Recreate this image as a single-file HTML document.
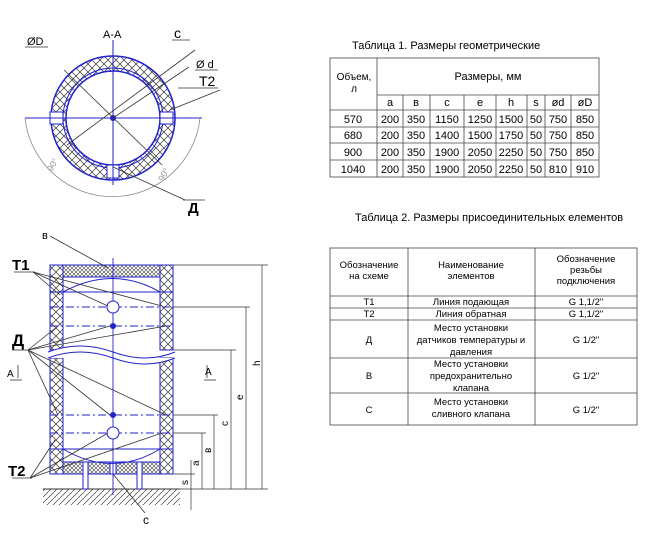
<!DOCTYPE html>
<html><head><meta charset="utf-8"><style>
body{margin:0;background:#fff;width:656px;height:536px;overflow:hidden}
svg{display:block}
text{font-family:"Liberation Sans",sans-serif}
</style></head><body>
<svg width="656" height="536" viewBox="0 0 656 536" xmlns="http://www.w3.org/2000/svg">
<defs>
<pattern id="x" width="8" height="8" patternUnits="userSpaceOnUse">
<path d="M0 0L8 8M8 0L0 8" stroke="#333" stroke-width="0.7"/></pattern>
<pattern id="xs" width="4" height="4" patternUnits="userSpaceOnUse">
<rect width="4" height="4" fill="#fff"/><path d="M0 0L4 4M4 0L0 4" stroke="#444" stroke-width="0.6"/></pattern>
<pattern id="hh" width="6" height="6" patternUnits="userSpaceOnUse">
<path d="M0 6L6 0" stroke="#444" stroke-width="0.7"/></pattern>
</defs>

<!-- circle section -->
<g>
<path d="M113 56a62 62 0 1 0 0.01 0ZM113 71a47 47 0 1 1 -0.01 0Z" fill="url(#x)" fill-rule="evenodd" stroke="#22c" stroke-width="1.5"/>
<circle cx="113" cy="118" r="50" fill="none" stroke="#22c" stroke-width="1"/>
<rect x="50" y="112" width="13" height="12" fill="#fff" stroke="#22c"/>
<rect x="160" y="112" width="13" height="12" fill="#fff" stroke="#22c"/>
<rect x="107" y="165" width="12" height="13" fill="#fff" stroke="#22c"/>
<line x1="25" y1="118" x2="202" y2="118" stroke="#22c"/>
<line x1="113" y1="40" x2="113" y2="185" stroke="#22c"/>
<circle cx="113" cy="118" r="3" fill="#22c"/>
<path d="M25 118A88 88 0 0 0 200 118" fill="none" stroke="#888" stroke-width="0.8"/>
<line x1="64" y1="70" x2="162" y2="165" stroke="#333" stroke-width="0.8"/>
<line x1="67" y1="145" x2="195" y2="50" stroke="#333" stroke-width="0.8"/>
<line x1="113" y1="118" x2="189" y2="67" stroke="#333" stroke-width="0.8"/>
<line x1="170" y1="110" x2="220" y2="90" stroke="#333" stroke-width="0.8"/>
<line x1="113" y1="167" x2="185" y2="200" stroke="#333" stroke-width="0.8"/>
<line x1="25" y1="47" x2="48" y2="47" stroke="#333" stroke-width="0.8"/>
<line x1="172" y1="40" x2="190" y2="40" stroke="#333" stroke-width="0.8"/>
<line x1="195" y1="70" x2="218" y2="70" stroke="#333" stroke-width="0.8"/>
<line x1="178" y1="88" x2="218" y2="88" stroke="#333" stroke-width="0.8"/>
<line x1="183" y1="200" x2="205" y2="200" stroke="#333" stroke-width="0.8"/>
<text x="103" y="38" font-size="11">A-A</text>
<text x="27" y="45" font-size="11">ØD</text>
<text x="174" y="38" font-size="14">c</text>
<text x="196" y="68" font-size="11">Ø d</text>
<text x="199" y="86" font-size="14">T2</text>
<text x="188" y="213" font-size="15" font-weight="bold">Д</text>
<text x="52" y="172" font-size="9" fill="#999" transform="rotate(-60 52 172)">90°</text>
<text x="163" y="182" font-size="9" fill="#999" transform="rotate(-60 163 182)">90°</text>
</g>

<!-- vertical view -->
<g>
<rect x="43" y="489" width="137" height="16" fill="url(#hh)"/>
<line x1="43" y1="489" x2="180" y2="489" stroke="#333"/>
<rect x="50" y="265" width="13" height="85" fill="url(#x)" stroke="#22c"/>
<rect x="160" y="265" width="13" height="85" fill="url(#x)" stroke="#22c"/>
<rect x="50" y="358" width="13" height="116" fill="url(#x)" stroke="#22c"/>
<rect x="160" y="358" width="13" height="116" fill="url(#x)" stroke="#22c"/>
<rect x="63" y="265" width="97" height="12" fill="url(#xs)" stroke="#22c"/>
<rect x="63" y="462" width="97" height="12" fill="url(#xs)" stroke="#22c"/>
<rect x="83" y="462" width="5" height="27" fill="#fff" stroke="#22c"/>
<rect x="137" y="462" width="5" height="27" fill="#fff" stroke="#22c"/>
<rect x="110" y="462" width="6" height="12" fill="#fff" stroke="#22c"/>
<path d="M63 292Q113 265 160 292M63 449Q113 478 160 449" fill="none" stroke="#22c"/>
<path d="M48 352Q80 340 113 352T175 352M48 358Q80 346 113 358T175 358" fill="#fff" stroke="#22c"/>
<g stroke="#22c" stroke-width="0.9">
<line x1="50" y1="292" x2="173" y2="292"/><line x1="50" y1="307" x2="173" y2="307" stroke-dasharray="8 3 2 3"/>
<line x1="50" y1="326" x2="173" y2="326" stroke-dasharray="8 3 2 3"/>
<line x1="50" y1="415" x2="173" y2="415" stroke-dasharray="8 3 2 3"/>
<line x1="50" y1="433" x2="173" y2="433" stroke-dasharray="8 3 2 3"/>
<line x1="50" y1="449" x2="173" y2="449"/>
<line x1="113" y1="258" x2="113" y2="495"/>
</g>
<circle cx="113" cy="307" r="6" fill="#fff" stroke="#22c"/>
<circle cx="113" cy="433" r="6" fill="#fff" stroke="#22c"/>
<circle cx="113" cy="326" r="3" fill="#22c"/><circle cx="113" cy="415" r="3" fill="#22c"/>
<g stroke="#333" stroke-width="0.8" fill="none">
<line x1="50" y1="236" x2="108" y2="268"/>
<line x1="14" y1="272" x2="35" y2="272"/>
<line x1="33" y1="272" x2="60" y2="295"/><line x1="33" y1="272" x2="162" y2="306"/><line x1="33" y1="272" x2="108" y2="306"/>
<line x1="12" y1="350" x2="28" y2="350"/>
<line x1="28" y1="350" x2="58" y2="326"/><line x1="28" y1="350" x2="110" y2="326"/><line x1="28" y1="350" x2="166" y2="326"/>
<line x1="28" y1="350" x2="58" y2="415"/><line x1="28" y1="350" x2="110" y2="415"/><line x1="28" y1="350" x2="166" y2="415"/>
<line x1="12" y1="478" x2="32" y2="478"/>
<line x1="30" y1="478" x2="55" y2="440"/><line x1="30" y1="478" x2="108" y2="433"/><line x1="30" y1="478" x2="162" y2="433"/>
<line x1="113" y1="474" x2="145" y2="513"/>
<line x1="18" y1="378" x2="18" y2="365"/><line x1="10" y1="380" x2="22" y2="380"/>
<line x1="207" y1="378" x2="207" y2="365"/><line x1="204" y1="380" x2="216" y2="380"/>
</g>
<g stroke="#333" stroke-width="0.7">
<line x1="173" y1="265" x2="268" y2="265"/><line x1="173" y1="307" x2="250" y2="307"/>
<line x1="173" y1="350" x2="236" y2="350"/><line x1="173" y1="415" x2="218" y2="415"/>
<line x1="173" y1="433" x2="206" y2="433"/><line x1="180" y1="489" x2="268" y2="489"/>
<line x1="173" y1="474" x2="195" y2="474"/>
<line x1="262" y1="265" x2="262" y2="489"/><line x1="246" y1="307" x2="246" y2="489"/>
<line x1="231" y1="350" x2="231" y2="489"/><line x1="214" y1="415" x2="214" y2="489"/>
<line x1="202" y1="433" x2="202" y2="489"/><line x1="191" y1="460" x2="191" y2="510"/>
</g>
<text x="42" y="239" font-size="11">в</text>
<text x="12" y="270" font-size="15" font-weight="bold">T1</text>
<text x="12" y="346" font-size="17" font-weight="bold">Д</text>
<text x="7" y="377" font-size="10">A</text>
<text x="205" y="375" font-size="10">A</text>
<text x="8" y="476" font-size="15" font-weight="bold">T2</text>
<text x="143" y="524" font-size="12">c</text>
<g font-size="10">
<text transform="translate(260 366) rotate(-90)">h</text>
<text transform="translate(243 400) rotate(-90)">e</text>
<text transform="translate(228 426) rotate(-90)">c</text>
<text transform="translate(211 453) rotate(-90)">в</text>
<text transform="translate(199 466) rotate(-90)">a</text>
<text transform="translate(188 485) rotate(-90)">s</text>
</g>
</g>

<!-- table 1 -->
<text x="352" y="49" font-size="11">Таблица 1. Размеры геометрические</text>
<g stroke="#444" stroke-width="0.8" fill="none">
<rect x="330" y="58" width="269" height="119"/>
<line x1="377" y1="58" x2="377" y2="177"/>
<line x1="377" y1="95" x2="599" y2="95"/>
<line x1="330" y1="110" x2="599" y2="110"/><line x1="330" y1="127" x2="599" y2="127"/>
<line x1="330" y1="143" x2="599" y2="143"/><line x1="330" y1="160" x2="599" y2="160"/>
<line x1="403" y1="95" x2="403" y2="177"/><line x1="430" y1="95" x2="430" y2="177"/>
<line x1="464" y1="95" x2="464" y2="177"/><line x1="496" y1="95" x2="496" y2="177"/>
<line x1="527" y1="95" x2="527" y2="177"/><line x1="545" y1="95" x2="545" y2="177"/>
<line x1="571" y1="95" x2="571" y2="177"/>
</g>
<g font-size="11" text-anchor="middle">
<text x="354" y="80" font-size="10">Объем,</text><text x="354" y="92" font-size="10">л</text>
<text x="488" y="80">Размеры, мм</text>
<text x="390" y="106">a</text><text x="416" y="106">в</text><text x="447" y="106">c</text><text x="480" y="106">e</text><text x="511" y="106">h</text><text x="536" y="106">s</text><text x="558" y="106">ød</text><text x="585" y="106">øD</text>
<text x="353" y="123">570</text><text x="390" y="123">200</text><text x="416" y="123">350</text><text x="447" y="123">1150</text><text x="480" y="123">1250</text><text x="511" y="123">1500</text><text x="536" y="123">50</text><text x="558" y="123">750</text><text x="585" y="123">850</text>
<text x="353" y="139">680</text><text x="390" y="139">200</text><text x="416" y="139">350</text><text x="447" y="139">1400</text><text x="480" y="139">1500</text><text x="511" y="139">1750</text><text x="536" y="139">50</text><text x="558" y="139">750</text><text x="585" y="139">850</text>
<text x="353" y="156">900</text><text x="390" y="156">200</text><text x="416" y="156">350</text><text x="447" y="156">1900</text><text x="480" y="156">2050</text><text x="511" y="156">2250</text><text x="536" y="156">50</text><text x="558" y="156">750</text><text x="585" y="156">850</text>
<text x="353" y="173">1040</text><text x="390" y="173">200</text><text x="416" y="173">350</text><text x="447" y="173">1900</text><text x="480" y="173">2050</text><text x="511" y="173">2250</text><text x="536" y="173">50</text><text x="558" y="173">810</text><text x="585" y="173">910</text>
</g>

<!-- table 2 -->
<text x="355" y="221" font-size="11">Таблица 2. Размеры присоединительных елементов</text>
<g stroke="#444" stroke-width="0.8" fill="none">
<rect x="330" y="248" width="307" height="177"/>
<line x1="408" y1="248" x2="408" y2="425"/><line x1="535" y1="248" x2="535" y2="425"/>
<line x1="330" y1="296" x2="637" y2="296"/><line x1="330" y1="308" x2="637" y2="308"/>
<line x1="330" y1="320" x2="637" y2="320"/><line x1="330" y1="358" x2="637" y2="358"/>
<line x1="330" y1="393" x2="637" y2="393"/>
</g>
<g font-size="9.5" text-anchor="middle">
<text x="369" y="268">Обозначение</text><text x="369" y="279">на схеме</text>
<text x="471" y="268">Наименование</text><text x="471" y="279">элементов</text>
<text x="586" y="262">Обозначение</text><text x="586" y="273">резьбы</text><text x="586" y="284">подключения</text>
<text x="369" y="305">T1</text><text x="471" y="305">Линия подающая</text><text x="586" y="305">G 1,1/2"</text>
<text x="369" y="317">T2</text><text x="471" y="317">Линия обратная</text><text x="586" y="317">G 1,1/2"</text>
<text x="369" y="343">Д</text><text x="471" y="331">Место установки</text><text x="471" y="343">датчиков температуры и</text><text x="471" y="355">давления</text><text x="586" y="343">G 1/2"</text>
<text x="369" y="379">B</text><text x="471" y="367">Место установки</text><text x="471" y="379">предохранительно</text><text x="471" y="391">клапана</text><text x="586" y="379">G 1/2"</text>
<text x="369" y="413">C</text><text x="471" y="405">Место установки</text><text x="471" y="417">сливного клапана</text><text x="586" y="413">G 1/2"</text>
</g>
</svg>
</body></html>
